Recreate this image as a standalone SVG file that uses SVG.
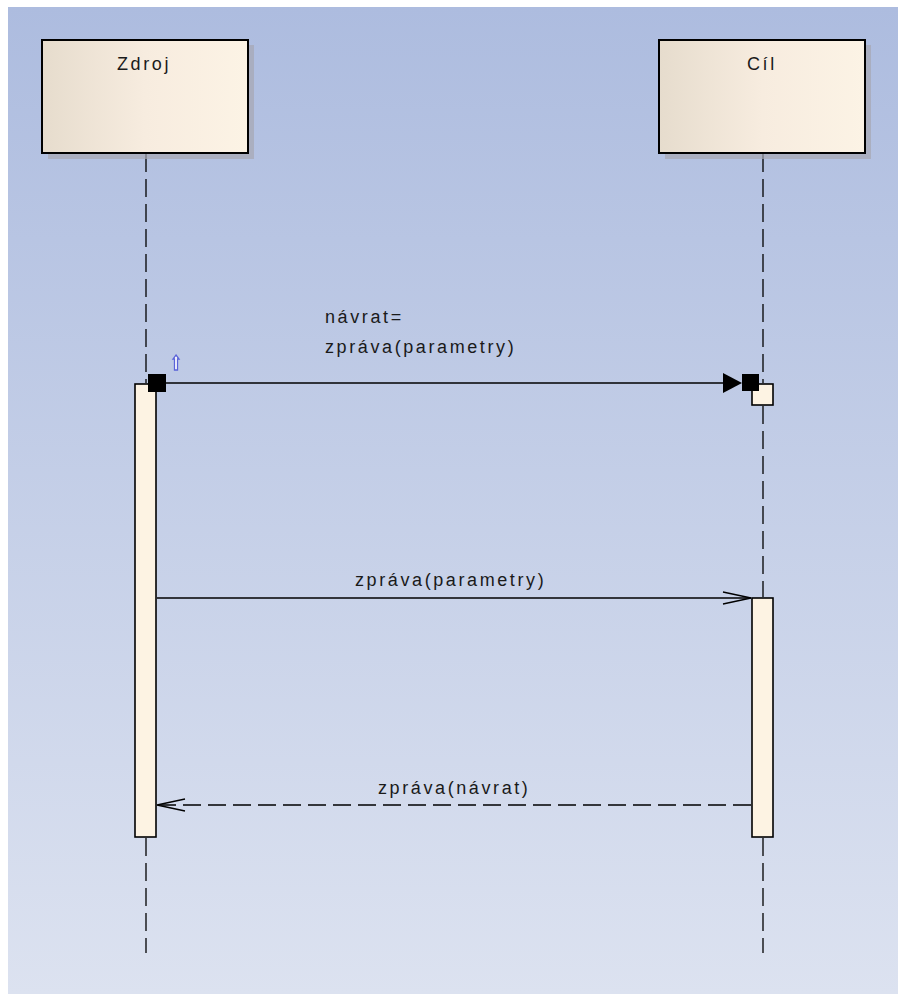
<svg xmlns="http://www.w3.org/2000/svg" width="898" height="995" viewBox="0 0 898 995">
<defs>
<linearGradient id="bg" x1="0" y1="0" x2="0" y2="1"><stop offset="0" stop-color="#adbcdf"/><stop offset="1" stop-color="#dce2f0"/></linearGradient>
<linearGradient id="box" x1="0" y1="0" x2="1" y2="0"><stop offset="0" stop-color="#e6dccd"/><stop offset="0.5" stop-color="#f7ecdf"/><stop offset="1" stop-color="#fcf3e5"/></linearGradient>
<marker id="open" markerWidth="40" markerHeight="20" refX="30" refY="10" markerUnits="userSpaceOnUse" orient="auto"><path d="M2 4 L30 10 L2 16" fill="none" stroke="#000" stroke-width="1.3"/></marker>
</defs>
<style>
.ll{stroke:#000;stroke-width:1.3;stroke-dasharray:18 7;fill:none}
.msg{stroke:#000;stroke-width:1.3;fill:none}
.hd{fill:url(#box);stroke:#000;stroke-width:2}
.sh{fill:#a6a6b2;opacity:0.7}
.act{fill:#fdf3e3;stroke:#000;stroke-width:1.6}
.t{font-family:"Liberation Sans",Arial,sans-serif;font-size:18px;letter-spacing:2.6px;fill:#1a1a1a}
</style>
<rect x="8" y="7" width="890" height="987" fill="url(#bg)"/>
<g id="connectors">
<line class="ll" x1="146" y1="154" x2="146" y2="383"/>
<line class="ll" x1="146" y1="838" x2="146" y2="953"/>
<line class="ll" x1="763" y1="154" x2="763" y2="383"/>
<line class="ll" x1="763" y1="406" x2="763" y2="597"/>
<line class="ll" x1="763" y1="838" x2="763" y2="953"/>
<g id="m1">
<line class="msg" x1="166" y1="383" x2="724" y2="383"/>
<path d="M723 373 L742 383 L723 393 Z" fill="#000"/>
<text class="t" x="325" y="323">návrat=</text>
<text class="t" x="325" y="353">zpráva(parametry)</text>
<path d="M176 355 L179 359 L177.5 359 L177.5 370 L174.5 370 L174.5 359 L173 359 Z" fill="#fff" stroke="#5a63d8" stroke-width="1.3"/>
</g>
<g id="m2">
<line class="msg" x1="157" y1="598" x2="751" y2="598" marker-end="url(#open)"/>
<text class="t" x="355" y="586">zpráva(parametry)</text>
</g>
<g id="m3">
<line class="msg" x1="751" y1="805" x2="157" y2="805" stroke-dasharray="18 7" marker-end="url(#open)"/>
<text class="t" x="378" y="794">zpráva(návrat)</text>
</g>
</g>
<g id="zdroj">
<rect class="sh" x="48" y="45" width="206" height="114"/>
<rect class="hd" x="42" y="40" width="206" height="113"/>
<text class="t" x="117" y="70">Zdroj</text>
</g>
<g id="cil">
<rect class="sh" x="665" y="45" width="206" height="114"/>
<rect class="hd" x="659" y="40" width="206" height="113"/>
<text class="t" x="747" y="70">Cíl</text>
</g>
<g id="act-zdroj">
<rect class="act" x="135" y="384" width="21" height="453"/>
</g>
<g id="act-cil-1">
<rect class="act" x="752" y="384" width="21" height="21"/>
</g>
<g id="act-cil-2">
<rect class="act" x="752" y="598" width="21" height="239"/>
</g>
<g id="ends">
<rect x="148" y="374" width="18" height="18" fill="#000"/>
<rect x="742" y="374" width="17" height="17" fill="#000"/>
</g>
</svg>
